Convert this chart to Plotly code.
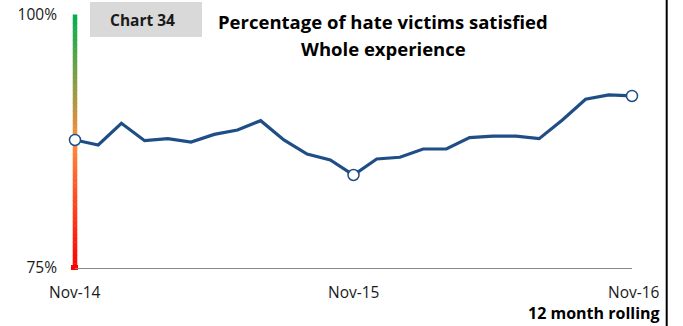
import plotly.graph_objects as go

months = ["Nov-14","Dec-14","Jan-15","Feb-15","Mar-15","Apr-15","May-15","Jun-15","Jul-15","Aug-15",
          "Sep-15","Oct-15","Nov-15","Dec-15","Jan-16","Feb-16","Mar-16","Apr-16","May-16","Jun-16",
          "Jul-16","Aug-16","Sep-16","Oct-16","Nov-16"]
satisfied = [87.65, 87.15, 89.3, 87.58, 87.78, 87.45, 88.2, 88.64, 89.56, 87.65,
             86.26, 85.67, 84.19, 85.77, 85.94, 86.76, 86.76, 87.88, 88.04, 88.04,
             87.78, 89.62, 91.67, 92.1, 92.0]
marked_idx = [0, 12, 24]
xlabels = ["Nov-14", "Nov-15", "Nov-16"]
y_ticks = [75, 100]
y_ticktext = ["75%", "100%"]

W, H = 683, 326
L, R, T, B = 75, 51, 15, 58
pw, ph = W - L - R, H - T - B
YMIN, YMAX = 75, 100

x = list(range(len(months)))
fig = go.Figure()
fig.add_trace(go.Scatter(x=x, y=satisfied, mode="lines",
                         line=dict(color="#1F4E87", width=3.2), hoverinfo="skip",
                         showlegend=False, cliponaxis=False))
fig.add_trace(go.Scatter(x=[x[i] for i in marked_idx], y=[satisfied[i] for i in marked_idx],
                         mode="markers", marker=dict(size=11, color="white",
                         line=dict(color="#1F4E87", width=1.5)),
                         showlegend=False, cliponaxis=False))

# gradient vertical bar (red -> orange -> green)
def lerp(c1, c2, t):
    return tuple(int(round(a + (b - a) * t)) for a, b in zip(c1, c2))
red, orange, green = (255, 0, 0), (255, 140, 60), (0, 176, 80)
shapes = []
N = 60
for k in range(N):
    t = (k + 0.5) / N
    c = lerp(red, orange, t / 0.5) if t < 0.5 else lerp(orange, green, (t - 0.5) / 0.5)
    shapes.append(dict(type="line", xref="paper", yref="paper", x0=0, x1=0,
                       y0=k / N, y1=(k + 1) / N + 0.002,
                       line=dict(color="rgb(%d,%d,%d)" % c, width=4.5), layer="below"))
# small red foot square
shapes.append(dict(type="rect", xref="paper", yref="paper",
                   x0=-4/pw, x1=3/pw, y0=-2/ph, y1=3/ph, fillcolor="rgb(255,0,0)",
                   line=dict(width=0), layer="below"))
# right border
bx = (666.7 - L) / pw
shapes.append(dict(type="line", xref="paper", yref="paper", x0=bx, x1=bx,
                   y0=-(B + 5) / ph, y1=1 + (T + 5) / ph, line=dict(color="black", width=2)))
# chart number box
shapes.append(dict(type="rect", xref="paper", yref="paper",
                   x0=(90 - L) / pw, x1=(202 - L) / pw, y0=(H - B - 37) / ph, y1=(H - B - 2) / ph,
                   fillcolor="#D9D9D9", line=dict(width=0)))

def py(p):
    return (H - B - p) / ph
def px(p):
    return (p - L) / pw

font = "Open Sans, Calibri, Arial, sans-serif"
ann = [
    dict(text="<b>Chart 34</b>", x=px(142), y=py(20), xanchor="center", yanchor="middle",
         font=dict(size=15.5, color="#1a1a1a")),
    dict(text="<b>Percentage of hate victims satisfied</b>", x=px(383), y=py(22),
         xanchor="center", yanchor="middle", font=dict(size=18.5, color="#000")),
    dict(text="<b>Whole experience</b>", x=px(383), y=py(48),
         xanchor="center", yanchor="middle", font=dict(size=18.5, color="#000")),
    dict(text="<b>12 month rolling</b>", x=px(662), y=py(313), xanchor="right",
         yanchor="middle", font=dict(size=16, color="#000")),
]
xl_pos = [dict(x=0, xanchor="center", xref="x"), dict(x=12, xanchor="center", xref="x"),
          dict(x=px(662), xanchor="right", xref="paper")]
for lab, p in zip(xlabels, xl_pos):
    ann.append(dict(text=lab, x=p["x"], xref=p["xref"], y=py(292), xanchor=p["xanchor"],
                    yanchor="middle", font=dict(size=15.5, color="#1a1a1a")))
for a in ann:
    a.setdefault("xref", "paper")
    a["yref"] = "paper"
    a["showarrow"] = False

fig.update_layout(
    width=W, height=H, margin=dict(l=L, r=R, t=T, b=B, pad=0, autoexpand=False),
    paper_bgcolor="white", plot_bgcolor="white",
    font=dict(family=font, size=15, color="#1a1a1a"),
    xaxis=dict(range=[0, 24], showgrid=False, zeroline=False, showticklabels=False,
               showline=True, linecolor="#888888", linewidth=1, ticks="", automargin=False),
    yaxis=dict(range=[YMIN, YMAX], tickvals=y_ticks, ticktext=y_ticktext, showgrid=False,
               zeroline=False, showline=False, ticks="", ticklabelstandoff=17,
               tickfont=dict(size=15.5), automargin=False),
    shapes=shapes, annotations=ann, showlegend=False,
)
fig.write_html("out.html")
